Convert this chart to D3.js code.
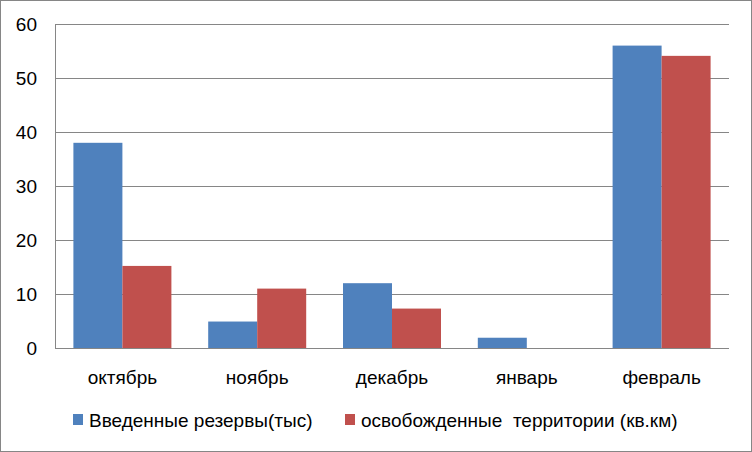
<!DOCTYPE html>
<html><head><meta charset="utf-8">
<script src="https://cdn.jsdelivr.net/npm/d3@7"></script>
<style>body{margin:0;background:#fff}svg{display:block}text{font-family:"Liberation Sans",Arial,sans-serif;fill:#000}</style>
</head><body>
<svg id="chart" width="752" height="452"></svg>
<script>
const categories = ["октябрь", "ноябрь", "декабрь", "январь", "февраль"];
const seriesNames = ["Введенные резервы(тыс)", "освобожденные  территории (кв.км)"];
const reserves = [38, 4.9, 12, 1.9, 56];
const territories = [15.2, 11, 7.3, 0, 54.1];
const yTicks = [0, 10, 20, 30, 40, 50, 60];
const colors = ["#4f81bd", "#c0504d"];

const svg = d3.select("#chart");
const plotL = 55, plotR = 729, plotT = 24, plotB = 348;

svg.append("rect").attr("x", 0.5).attr("y", 0.5).attr("width", 751).attr("height", 451)
  .attr("fill", "#fff").attr("stroke", "#868686");

const x0 = d3.scaleBand().domain(categories).range([plotL, plotR]).paddingInner(0.273).paddingOuter(0.1365);
const x1 = d3.scaleBand().domain([0, 1]).range([0, x0.bandwidth()]);
const y = d3.scaleLinear().domain([0, 60]).range([plotB, plotT]);

// gridlines
svg.append("g").selectAll("line").data(yTicks).join("line")
  .attr("x1", plotL).attr("x2", plotR)
  .attr("y1", d => Math.round(y(d)) + 0.5).attr("y2", d => Math.round(y(d)) + 0.5)
  .attr("stroke", "#868686").attr("stroke-width", 1);

// y axis line
svg.append("line").attr("x1", plotL + 0.5).attr("x2", plotL + 0.5).attr("y1", plotT).attr("y2", plotB + 1)
  .attr("stroke", "#868686");

// y tick labels
svg.append("g").selectAll("text").data(yTicks).join("text")
  .attr("x", 37).attr("y", d => y(d)).attr("dy", "0.35em").attr("text-anchor", "end")
  .attr("font-size", 19).text(d => d);

// bars
const series = [reserves, territories];
const g = svg.append("g");
series.forEach((vals, si) => {
  g.selectAll(".s" + si).data(vals.map((v, i) => ({ c: categories[i], v }))).join("rect")
    .attr("class", "s" + si)
    .attr("x", d => x0(d.c) + x1(si))
    .attr("width", x1.bandwidth())
    .attr("y", d => y(d.v))
    .attr("height", d => y(0) - y(d.v))
    .attr("fill", colors[si]);
});

// baseline over bars
svg.append("line").attr("x1", plotL).attr("x2", plotR)
  .attr("y1", Math.round(y(0)) + 0.5).attr("y2", Math.round(y(0)) + 0.5).attr("stroke", "#868686");

// category labels
svg.append("g").selectAll("text").data(categories).join("text")
  .attr("x", d => x0(d) + x0.bandwidth() / 2).attr("y", 377).attr("dy", "0.35em")
  .attr("text-anchor", "middle").attr("font-size", 19).text(d => d);

// legend
const legendX = [73, 345];
const lg = svg.append("g");
seriesNames.forEach((name, i) => {
  lg.append("rect").attr("x", legendX[i]).attr("y", 414).attr("width", 10).attr("height", 11).attr("fill", colors[i]);
  lg.append("text").attr("x", legendX[i] + 16).attr("y", 420).attr("dy", "0.35em")
    .attr("font-size", 19).style("white-space", "pre").text(name);
});
</script>
</body></html>
